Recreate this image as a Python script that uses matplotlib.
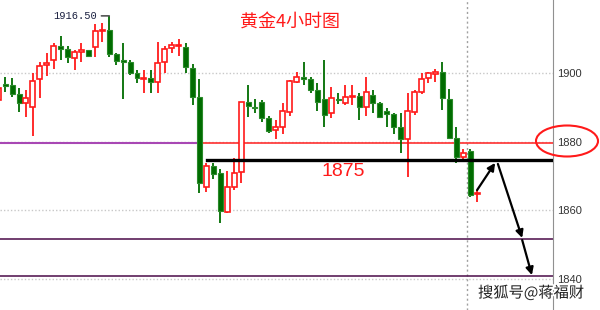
import matplotlib
matplotlib.use("Agg")
import matplotlib.pyplot as plt
import matplotlib.patheffects as pe
from matplotlib.patches import Ellipse

plt.rcParams["font.family"] = ["Liberation Sans", "Noto Sans CJK SC", "DejaVu Sans"]

# 4-hour gold candles
opens = [1892.0, 1896.7, 1896.4, 1893.8, 1891.1, 1889.9, 1898.2, 1902.3, 1903.7, 1907.8,
         1907.0, 1904.3, 1906.1, 1906.7, 1907.5, 1912.0, 1912.5, 1905.5, 1903.7, 1903.1,
         1899.9, 1898.3, 1898.5, 1897.3, 1903.1, 1907.2, 1907.7, 1907.5, 1901.4, 1893.0,
         1866.8, 1872.9, 1870.9, 1859.6, 1866.8, 1871.2, 1891.4, 1890.0, 1891.4, 1886.7,
         1883.5, 1884.1, 1888.5, 1897.3, 1898.7, 1898.2, 1894.9, 1892.3, 1888.2, 1892.4,
         1891.1, 1893.1, 1893.2, 1889.9, 1893.5, 1891.1, 1888.8, 1887.9, 1884.1, 1880.6,
         1888.5, 1894.3, 1898.5, 1899.8, 1900.2, 1892.3, 1880.9, 1875.5, 1877.2, 1864.9]
closes = [1895.5, 1896.1, 1893.8, 1891.1, 1892.6, 1897.6, 1902.0, 1902.8, 1907.8, 1907.0,
          1904.6, 1906.1, 1906.7, 1904.9, 1912.2, 1912.3, 1905.5, 1903.4, 1903.1, 1899.9,
          1898.5, 1898.5, 1897.3, 1902.8, 1907.0, 1908.1, 1907.9, 1901.7, 1892.9, 1868.0,
          1872.9, 1870.6, 1859.8, 1866.8, 1870.9, 1891.4, 1890.2, 1889.9, 1886.7, 1883.2,
          1884.1, 1888.8, 1897.6, 1898.7, 1898.2, 1894.9, 1891.4, 1887.6, 1892.6, 1892.2,
          1892.9, 1893.3, 1889.9, 1894.3, 1891.1, 1887.0, 1887.9, 1884.1, 1880.6, 1888.8,
          1894.3, 1898.2, 1899.9, 1900.0, 1892.6, 1880.9, 1875.5, 1876.7, 1864.4, 1865.1]
highs = [1895.8, 1898.7, 1898.5, 1895.5, 1894.9, 1899.9, 1903.1, 1905.8, 1908.7, 1910.8,
         1907.8, 1906.7, 1908.7, 1906.7, 1914.0, 1914.3, 1916.5, 1905.8, 1908.7, 1903.7,
         1900.8, 1900.8, 1900.8, 1909.0, 1907.8, 1909.0, 1909.9, 1908.7, 1902.5, 1898.2,
         1873.8, 1873.8, 1872.1, 1871.5, 1875.2, 1891.6, 1896.4, 1892.3, 1892.0, 1887.3,
         1886.4, 1891.1, 1897.9, 1900.2, 1903.1, 1898.7, 1897.0, 1903.7, 1895.8, 1894.0,
         1896.4, 1896.4, 1894.0, 1898.7, 1894.9, 1891.4, 1889.6, 1888.2, 1888.2, 1894.0,
         1894.9, 1899.9, 1900.2, 1901.1, 1903.1, 1895.2, 1884.1, 1877.8, 1877.8, 1865.9]
lows = [1891.4, 1894.3, 1892.9, 1888.5, 1887.0, 1881.7, 1892.6, 1899.0, 1901.1, 1903.7,
        1902.8, 1900.8, 1903.1, 1904.9, 1904.6, 1909.0, 1904.6, 1902.3, 1892.3, 1899.3,
        1897.0, 1894.0, 1894.0, 1894.0, 1899.9, 1905.8, 1904.9, 1899.9, 1890.5, 1865.0,
        1865.3, 1869.1, 1856.3, 1859.3, 1865.9, 1868.0, 1887.0, 1888.2, 1885.8, 1882.6,
        1880.6, 1882.3, 1887.3, 1897.0, 1896.4, 1894.0, 1888.8, 1884.1, 1886.7, 1890.8,
        1890.5, 1890.5, 1886.4, 1887.3, 1888.2, 1886.7, 1884.1, 1882.3, 1876.7, 1869.7,
        1887.6, 1893.8, 1897.0, 1897.3, 1889.1, 1880.6, 1873.7, 1874.0, 1863.9, 1862.5]

price_ticks = [1900, 1880, 1860, 1840]
high_label = "1916.50"
support_level = 1874.64    # black "1875" line
red_level = 1879.44        # red / purple line near 1880
target_levels = [1851.6, 1841.04]
# forecast path drawn with arrows: (x_from, y_from, x_to, y_to)
arrow_path = [(69.0, 1865.9, 71.6, 1873.8),
              (72.0, 1873.5, 75.5, 1852.0),
              (75.5, 1851.4, 76.9, 1841.2)]

RED = "#ff1a1a"
GREEN = "#006c00"

fig = plt.figure(figsize=(6, 3.1), dpi=100)
ax = fig.add_axes([0, 0, 553 / 600, 1])

xs = list(range(len(opens)))
width = 0.72

# grid
for t in price_ticks:
    ax.axhline(t, color="#c8c8c8", lw=1, ls=(0, (1, 1.5)), zorder=0)
ax.axvline(67.55, color="#a0a0a0", lw=1, ls=(0, (1.5, 2)), zorder=0)

# level lines
ax.plot([0, 29.1], [red_level, red_level], color="#a848b4", lw=1.5, zorder=1)
ax.plot([29.1, 80], [red_level, red_level], color="#ff3030", lw=1.2, zorder=1)
ax.plot([30.1, 80], [support_level, support_level], color="black", lw=2.4, zorder=4)
for lvl in target_levels:
    ax.axhline(lvl, color="#4a0a48", lw=1.1, zorder=1)

# candles
for x, o, h, l, c in zip(xs, opens, highs, lows, closes):
    up = c >= o
    col = RED if up else GREEN
    lo_b, hi_b = min(o, c), max(o, c)
    if hi_b - lo_b < 0.35:
        mid = (hi_b + lo_b) / 2
        lo_b, hi_b = mid - 0.17, mid + 0.17
    ax.vlines(x, l, h, color=col, lw=1.3, zorder=2)
    if up:
        ax.bar(x, hi_b - lo_b, bottom=lo_b, width=width, facecolor="white",
               edgecolor=col, lw=1.2, zorder=3)
    else:
        ax.bar(x, hi_b - lo_b, bottom=lo_b, width=width, facecolor=GREEN,
               edgecolor="#2a8a2a", lw=0.8, zorder=3)

# high annotation
ax.annotate(high_label, xy=(16, max(highs)), xytext=(-12, 0), textcoords="offset pixels",
            ha="right", va="center", fontsize=7.5, family="Liberation Mono", color="#1a2040",
            arrowprops=dict(arrowstyle="-", color="#555555", lw=1.2, shrinkA=1, shrinkB=0))

# forecast arrows
for x0, y0, x1, y1 in arrow_path:
    ax.annotate("", xy=(x1, y1), xytext=(x0, y0),
                arrowprops=dict(arrowstyle="-|>", color="black", lw=1.6,
                                mutation_scale=11, shrinkA=0, shrinkB=0), zorder=5)

ax.set_xlim(0.26, 79.94)
ax.set_ylim(1831.08, 1921.11)
ax.set_yticks(price_ticks)
ax.yaxis.tick_right()
ax.tick_params(axis="y", length=0, pad=3, labelsize=8, labelcolor="#333333")
ax.set_xticks([])
for side in ["top", "bottom", "left"]:
    ax.spines[side].set_visible(False)
ax.spines["right"].set_color("#909090")

fig.text(290 / 600, 1 - 22 / 310, "黄金4小时图", color=RED, fontsize=13,
         family="Noto Sans CJK SC", ha="center", va="center")
fig.text(343 / 600, 1 - 172 / 310, "1875", color=RED, fontsize=14,
         ha="center", va="center")
fig.text(531 / 600, 1 - 293 / 310, "搜狐号@蒋福财", color="#222222", fontsize=11,
         family=["Noto Sans CJK SC", "DejaVu Sans"], ha="center", va="center",
         path_effects=[pe.withStroke(linewidth=2.5, foreground="white")])

fig.add_artist(Ellipse((567 / 600, 1 - 141 / 310), 62 / 600, 31 / 310,
                       transform=fig.transFigure, fill=False, ec="#ff1a1a", lw=1.5))

fig.savefig("out.png", dpi=100)
